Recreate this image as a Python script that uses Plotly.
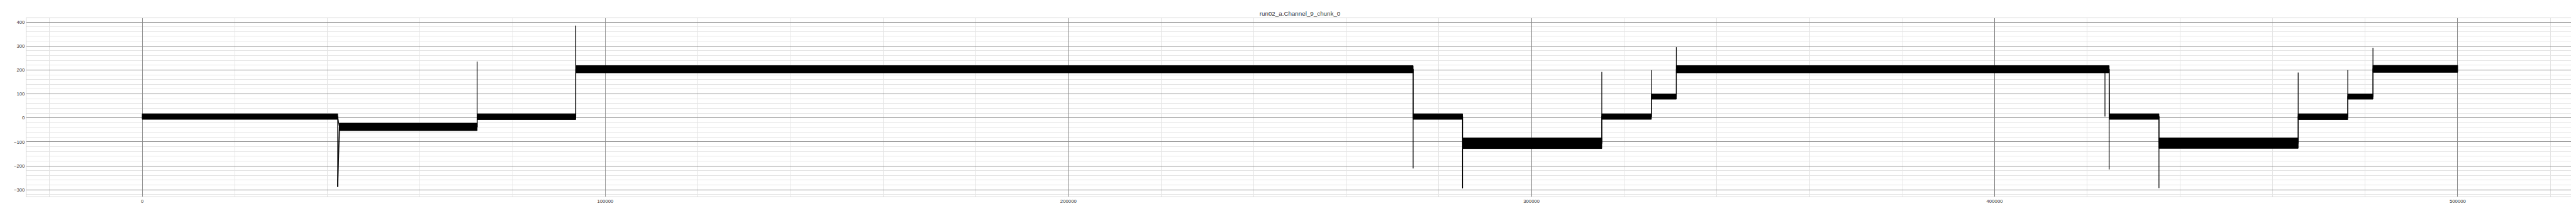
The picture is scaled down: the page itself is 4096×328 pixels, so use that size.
import plotly.graph_objects as go

# ---- data ----
title_text = "run02_a.Channel_9_chunk_0"

# plateau segments of the trace (sample index start/end, upper and lower edge of the noise band)
seg_start = [0, 42585, 72330, 93615, 274440, 285110, 315180, 325890, 331270, 424800, 435490, 465550, 476260, 481700]
seg_end   = [42214, 72330, 93615, 274440, 285110, 315180, 325890, 331270, 424740, 435490, 465550, 476260, 481700, 500000]
seg_hi    = [17, -22, 17, 218, 17, -84, 17, 100, 218, 17, -84, 17, 100, 219]
seg_lo    = [-6, -53, -7, 188, -6, -128, -6, 78, 188, -6, -127, -7, 78, 190]

# transient spikes at the level changes
spike_x    = [42214, 72330, 93615, 274440, 285110, 315180, 325890, 331270, 423830, 424740, 435490, 465550, 476260, 481700]
spike_base = [5, -38, 5, 203, 5, -106, 5, 89, 203, 203, 5, -106, 5, 89]
spike_peak = [-287.5, 235, 385, -211, -294, 192, 199, 295, 6, -215, -293, 189, 200, 293]

# short recovery shoulder after the first drop
rec_x = [42214, 42450, 42585]
rec_y = [-287.5, -110, -38]

x_ticks = [0, 100000, 200000, 300000, 400000, 500000]
x_tick_text = ["0", "100000", "200000", "300000", "400000", "500000"]
y_ticks = [-300, -200, -100, 0, 100, 200, 300, 400]
y_tick_text = ["\u2212300", "\u2212200", "\u2212100", "0", "100", "200", "300", "400"]

# ---- build traces ----
band_x, band_y = [], []
for s, e, h, l in zip(seg_start, seg_end, seg_hi, seg_lo):
    band_x += [s, e, e, s, s, None]
    band_y += [h, h, l, l, h, None]

step_x, step_y = [], []
for s, e, h, l in zip(seg_start, seg_end, seg_hi, seg_lo):
    m = (h + l) / 2
    step_x += [s, e]
    step_y += [m, m]

sp_x, sp_y = [], []
for x, b, p in zip(spike_x, spike_base, spike_peak):
    sp_x += [x, x, None]
    sp_y += [b, p, None]

fig = go.Figure()
fig.add_trace(go.Scatter(x=band_x, y=band_y, mode="lines", fill="toself",
                         fillcolor="black", line=dict(color="black", width=1),
                         hoverinfo="skip", showlegend=False))
fig.add_trace(go.Scatter(x=step_x, y=step_y, mode="lines",
                         line=dict(color="black", width=1.2),
                         hoverinfo="skip", showlegend=False))
fig.add_trace(go.Scatter(x=sp_x, y=sp_y, mode="lines",
                         line=dict(color="black", width=1.2),
                         hoverinfo="skip", showlegend=False))
fig.add_trace(go.Scatter(x=rec_x, y=rec_y, mode="lines",
                         line=dict(color="black", width=1.6),
                         hoverinfo="skip", showlegend=False))

font_family = "Liberation Sans, Arial, sans-serif"
axis_common = dict(
    showgrid=True, gridcolor="#8a8a8a", gridwidth=0.8,
    zeroline=False, showline=True, mirror=True,
    linecolor="#d4d4d4", linewidth=1, ticks="",
    tickfont=dict(family=font_family, size=7.8, color="#333333"),
)

fig.update_layout(
    width=4096, height=328,
    margin=dict(l=34, r=11, t=21, b=21),
    paper_bgcolor="white", plot_bgcolor="white",
    title=dict(text=title_text, x=0.5, xref="paper", xanchor="center",
               y=1 - 13.7 / 328, yref="container", yanchor="middle",
               font=dict(family=font_family, size=9.8, color="#333333")),
    showlegend=False,
    xaxis=dict(range=[-25000, 525000], tickmode="array", tickvals=x_ticks,
               ticktext=x_tick_text,
               minor=dict(tickmode="linear", tick0=0, dtick=20000, showgrid=True,
                          gridcolor="#e4e4e4", gridwidth=0.8, ticks=""),
               **axis_common),
    yaxis=dict(range=[-328.2, 415.8], tickmode="array", tickvals=y_ticks,
               ticktext=y_tick_text,
               minor=dict(tickmode="linear", tick0=0, dtick=20, showgrid=True,
                          gridcolor="#e4e4e4", gridwidth=0.8, ticks=""),
               **axis_common),
)

fig.write_html("out.html", config={"displayModeBar": False})
